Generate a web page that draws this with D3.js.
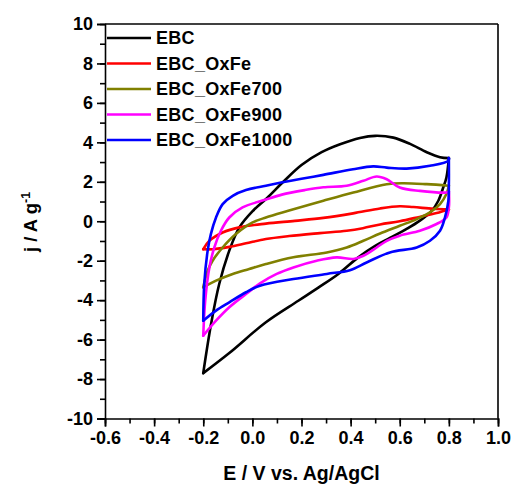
<!DOCTYPE html>
<html><head><meta charset="utf-8">
<script src="https://cdn.jsdelivr.net/npm/d3@7"></script>
<style>
html,body{margin:0;padding:0;background:#fff;}
svg{display:block;font-family:"Liberation Sans",Arial,sans-serif;font-weight:bold;}
</style></head>
<body>
<svg id="chart" width="513" height="485"></svg>
<script>
// ---- data (E in V, j in A/g) ----
const seriesNames = ["EBC", "EBC_OxFe", "EBC_OxFe700", "EBC_OxFe900", "EBC_OxFe1000"];
const seriesColors = ["#000000", "#ff0000", "#808000", "#ff00ff", "#0000ff"];
const xTicks = [-0.6, -0.4, -0.2, 0.0, 0.2, 0.4, 0.6, 0.8, 1.0];
const yTicks = [-10, -8, -6, -4, -2, 0, 2, 4, 6, 8, 10];

const ebcUpper = [[-0.2,-7.7],[-0.168,-5.2],[-0.135,-3.18],[-0.094,-1.49],[-0.053,-0.31],[0.0,0.5],[0.06,1.18],[0.126,2.0],[0.2,2.85],[0.282,3.5],[0.357,3.9],[0.438,4.22],[0.5,4.33],[0.574,4.24],[0.642,3.92],[0.71,3.5],[0.764,3.25],[0.8,3.2]];
const ebcLower = [[-0.2,-7.7],[-0.094,-6.68],[0.055,-5.12],[0.187,-4.03],[0.27,-3.35],[0.35,-2.67],[0.431,-1.83],[0.5,-1.25],[0.56,-0.85],[0.628,-0.39],[0.682,0.03],[0.73,0.53],[0.757,1.04],[0.777,1.71],[0.79,2.22],[0.8,3.2]];

const oxFeUpper = [[-0.2,-1.42],[-0.175,-0.99],[-0.121,-0.57],[-0.053,-0.31],[0.055,-0.12],[0.173,0.02],[0.289,0.17],[0.41,0.4],[0.52,0.65],[0.6,0.76],[0.655,0.72],[0.737,0.63],[0.8,0.6]];
const oxFeLower = [[-0.2,-1.42],[-0.16,-1.42],[-0.094,-1.3],[-0.026,-1.12],[0.055,-0.9],[0.15,-0.75],[0.275,-0.6],[0.384,-0.48],[0.45,-0.35],[0.52,-0.16],[0.6,0.0],[0.68,0.22],[0.75,0.42],[0.8,0.6]];

const oxFe700Upper = [[-0.2,-3.35],[-0.182,-2.51],[-0.162,-2.0],[-0.121,-1.33],[-0.067,-0.65],[0.001,-0.06],[0.055,0.19],[0.146,0.53],[0.289,1.04],[0.411,1.46],[0.547,1.88],[0.614,1.93],[0.71,1.88],[0.8,1.8]];
const oxFe700Lower = [[-0.2,-3.35],[-0.148,-3.01],[-0.08,-2.67],[-0.013,-2.42],[0.055,-2.17],[0.167,-1.83],[0.303,-1.58],[0.384,-1.33],[0.452,-0.99],[0.52,-0.62],[0.6,-0.23],[0.669,0.11],[0.723,0.45],[0.764,0.87],[0.79,1.38],[0.8,1.8]];

const oxFe900Upper = [[-0.2,-5.8],[-0.192,-4.03],[-0.175,-2.34],[-0.155,-1.33],[-0.128,-0.48],[-0.094,0.19],[-0.04,0.7],[0.055,1.1],[0.12,1.35],[0.214,1.58],[0.289,1.72],[0.384,1.8],[0.452,2.05],[0.506,2.27],[0.547,2.13],[0.6,1.71],[0.682,1.54],[0.79,1.46],[0.8,1.5]];
const oxFe900Lower = [[-0.2,-5.8],[-0.148,-5.04],[-0.094,-4.36],[-0.026,-3.69],[0.031,-3.15],[0.099,-2.67],[0.167,-2.34],[0.262,-2.0],[0.343,-1.83],[0.411,-1.91],[0.452,-1.75],[0.506,-1.33],[0.547,-0.99],[0.6,-0.73],[0.682,-0.48],[0.75,-0.14],[0.79,0.19],[0.8,0.7],[0.8,1.5]];

const oxFe1000Upper = [[-0.2,-5.04],[-0.196,-3.18],[-0.182,-1.49],[-0.169,-0.65],[-0.148,0.19],[-0.121,0.87],[-0.08,1.29],[-0.026,1.58],[0.055,1.8],[0.2,2.15],[0.289,2.35],[0.41,2.64],[0.492,2.78],[0.547,2.72],[0.628,2.67],[0.723,2.81],[0.798,3.06],[0.8,3.2]];
const oxFe1000Lower = [[-0.2,-5.04],[-0.148,-4.53],[-0.094,-4.11],[-0.026,-3.6],[0.031,-3.27],[0.167,-2.93],[0.303,-2.67],[0.397,-2.48],[0.465,-2.09],[0.56,-1.58],[0.669,-1.33],[0.723,-0.99],[0.764,-0.48],[0.784,0.19],[0.798,1.04],[0.8,1.88],[0.8,3.2]];

const seriesBranches = [
  [ebcUpper, ebcLower],
  [oxFeUpper, oxFeLower],
  [oxFe700Upper, oxFe700Lower],
  [oxFe900Upper, oxFe900Lower],
  [oxFe1000Upper, oxFe1000Lower]
];

// ---- layout ----
const svg = d3.select("#chart");
const L = 105, R = 498, T = 24, B = 418.5;
const x = d3.scaleLinear().domain([-0.6, 1.0]).range([L, R]);
const y = d3.scaleLinear().domain([-10, 10]).range([B, T]);
const loc = d3.formatLocale({decimal: ".", thousands: ",", grouping: [3], currency: ["", ""], minus: "-"});

const line = d3.line().x(d => x(d[0])).y(d => y(d[1])).curve(d3.curveCatmullRom.alpha(0.5));

// curves
const gCurves = svg.append("g");
seriesBranches.forEach((br, i) => {
  br.forEach(b => {
    gCurves.append("path").attr("d", line(b)).attr("fill", "none")
      .attr("stroke", seriesColors[i]).attr("stroke-width", 2.6)
      .attr("stroke-linejoin", "round").attr("stroke-linecap", "round");
  });
});

// axes
const xMinor = d3.range(-0.6, 1.0001, 0.1);
const yMinor = d3.range(-10, 10.001, 1);
const xAxis = d3.axisBottom(x).tickValues(xTicks).tickFormat(loc.format(".1f")).tickSize(8).tickPadding(4);
const yAxis = d3.axisLeft(y).tickValues(yTicks).tickFormat(loc.format("d")).tickSize(8).tickPadding(4);

const gx = svg.append("g").attr("transform", `translate(0,${B})`);
gx.append("g").call(d3.axisBottom(x).tickValues(xMinor).tickFormat("").tickSize(5))
  .call(g => g.select(".domain").remove());
gx.append("g").call(xAxis);
const gy = svg.append("g").attr("transform", `translate(${L},0)`);
gy.append("g").call(d3.axisLeft(y).tickValues(yMinor).tickFormat("").tickSize(5))
  .call(g => g.select(".domain").remove());
gy.append("g").call(yAxis);

svg.selectAll(".tick line").attr("stroke", "#000").attr("stroke-width", 1.6);
svg.selectAll(".domain").attr("stroke", "#000").attr("stroke-width", 1.6);
svg.selectAll(".tick text").attr("font-size", 18).attr("font-weight", "bold")
  .attr("font-family", "Liberation Sans, Arial, sans-serif").attr("fill", "#000");
gx.selectAll(".tick text").attr("dy", "0.75em");

// frame top/right
svg.append("line").attr("x1", L).attr("x2", R).attr("y1", T).attr("y2", T).attr("stroke", "#000").attr("stroke-width", 1.6);
svg.append("line").attr("x1", R).attr("x2", R).attr("y1", T).attr("y2", B).attr("stroke", "#000").attr("stroke-width", 1.6);

// axis titles
svg.append("text").attr("x", 301.5).attr("y", 480).attr("text-anchor", "middle")
  .attr("font-size", 19.5).text("E / V vs. Ag/AgCl");
const yt = svg.append("text").attr("transform", "translate(37,252) rotate(-90)")
  .attr("text-anchor", "start").attr("font-size", 18.5);
yt.append("tspan").text("j / A g");
yt.append("tspan").attr("font-size", 12.5).attr("dy", -7).text("-1");

// legend
const legendRowY = [38, 63.5, 89, 114.5, 140];
const lg = svg.append("g");
seriesNames.forEach((n, i) => {
  lg.append("line").attr("x1", 107).attr("x2", 151).attr("y1", legendRowY[i]).attr("y2", legendRowY[i])
    .attr("stroke", seriesColors[i]).attr("stroke-width", 2.6);
  lg.append("text").attr("x", 156).attr("y", legendRowY[i] + 6.3).attr("font-size", 18)
    .attr("letter-spacing", 0.3).text(n);
});
</script>
</body></html>
